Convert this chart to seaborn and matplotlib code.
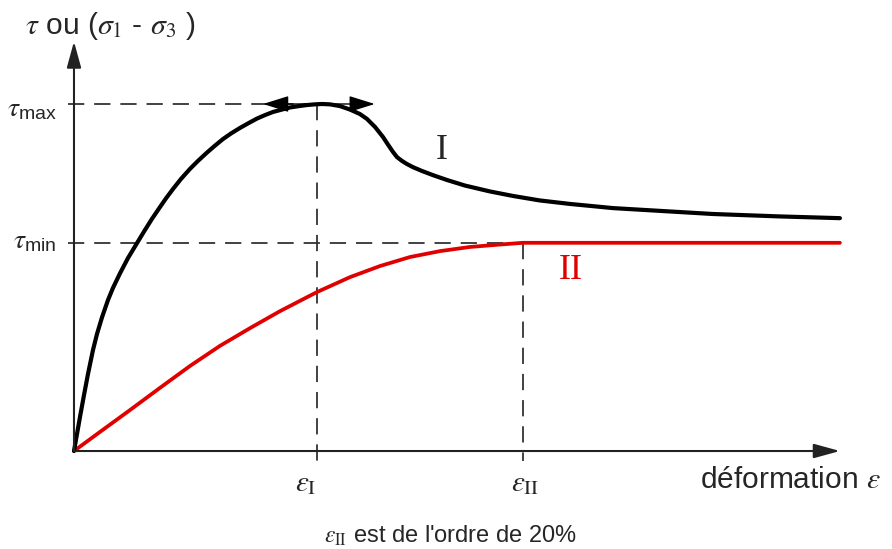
import pandas as pd
import matplotlib.pyplot as plt
import seaborn as sns

# Courbe I (sol dense / surconsolidé) : pic puis palier résiduel
strain_I = [0, 0.134, 0.267, 0.445, 0.624, 0.846, 1.024, 1.247, 1.514, 1.737, 2.049,
            2.405, 2.806, 3.163, 3.474, 3.831, 4.098, 4.410, 4.766, 5.167, 5.523, 5.924,
            6.281, 6.637, 6.993, 7.394, 7.751, 8.151, 8.508, 8.864, 9.265, 9.621,
            10.022, 10.379, 10.735, 11.047, 11.403, 11.849, 12.294, 12.739, 13.051,
            13.408, 13.764, 13.987, 14.209, 14.388, 14.610, 14.833, 15.100, 15.501,
            15.991, 16.615, 17.416, 18.530, 19.555, 20.757, 22.094, 24.009, 26.102,
            28.463, 31.448, 34.120]
stress_I = [0, 0.049, 0.098, 0.161, 0.222, 0.291, 0.337, 0.385, 0.435, 0.470, 0.512,
            0.556, 0.599, 0.637, 0.669, 0.703, 0.728, 0.755, 0.784, 0.813, 0.836, 0.860,
            0.880, 0.899, 0.915, 0.931, 0.944, 0.958, 0.968, 0.977, 0.984, 0.990,
            0.994, 0.997, 0.999, 1.0, 0.999, 0.994, 0.984, 0.971, 0.957,
            0.934, 0.905, 0.883, 0.862, 0.847, 0.836, 0.827, 0.818, 0.807,
            0.795, 0.781, 0.765, 0.748, 0.735, 0.722, 0.712, 0.700, 0.692,
            0.683, 0.676, 0.671]

# Courbe II (sol lâche / normalement consolidé)
strain_II = [0, 1.158, 2.494, 3.831, 5.167, 6.503, 7.840, 9.176, 10.824, 12.294, 13.630,
             14.967, 16.303, 17.639, 18.976, 20.0, 34.12]
stress_II = [0, 0.055, 0.118, 0.182, 0.245, 0.303, 0.354, 0.403, 0.458, 0.501, 0.533,
             0.559, 0.576, 0.588, 0.595, 0.6, 0.6]

tau_max = 1.0
tau_min = 0.6
eps_I = 10.82
eps_II = 20.0
x_end = 34.12
y_end = 1.18

df_I = pd.DataFrame({'deformation': strain_I, 'tau': stress_I})
df_II = pd.DataFrame({'deformation': strain_II, 'tau': stress_II})

sns.set_style('white')
plt.rcParams['font.family'] = ['Liberation Sans', 'DejaVu Sans']
plt.rcParams['mathtext.fontset'] = 'stix'

fig = plt.figure(figsize=(8.92, 5.49), dpi=100)
ax = fig.add_axes([0, 0, 1, 1])
ax.set_xlim(-3.296, 36.44)
ax.set_ylim(-0.2824, 1.2997)

# lignes de rappel en tirets
dash = dict(color='#333333', lw=1.3, dashes=(9, 5.5))
ax.plot([-0.27, eps_I], [tau_max, tau_max], **dash)
ax.plot([-0.27, eps_II], [tau_min, tau_min], **dash)
ax.plot([eps_I, eps_I], [tau_max, -0.03], **dash)
ax.plot([eps_II, eps_II], [tau_min, -0.03], **dash)

# axes avec flèches
axis_arrow = dict(arrowstyle='-|>,head_length=0.8,head_width=0.22', color='#222222',
                  lw=1.5, shrinkA=0, shrinkB=0, mutation_scale=20)
ax.annotate('', xy=(x_end, 0), xytext=(0, 0), arrowprops=axis_arrow)
ax.annotate('', xy=(0, y_end), xytext=(0, 0), arrowprops=axis_arrow)

# courbes
sns.lineplot(data=df_II, x='deformation', y='tau', color='#e00000', lw=2.7,
             estimator=None, sort=False, ax=ax, solid_joinstyle='round')
sns.lineplot(data=df_I, x='deformation', y='tau', color='black', lw=3.0,
             estimator=None, sort=False, ax=ax, solid_joinstyle='round')
ax.axis('off')

# double flèche au pic
ax.annotate('', xy=(13.4, tau_max), xytext=(8.42, tau_max),
            arrowprops=dict(arrowstyle='<|-|>,head_length=0.8,head_width=0.25',
                            color='black', lw=1.0, shrinkA=0, shrinkB=0,
                            mutation_scale=20))

# textes
ax.text(-2.18, 1.225, r'$\tau$ ou ($\sigma_1$ - $\sigma_3$ )', fontsize=21.5,
        ha='left', va='center')
ax.text(-0.76, 0.985, r'$\tau_{\mathregular{max}}$', fontsize=20, ha='right', va='center')
ax.text(-0.76, 0.605, r'$\tau_{\mathregular{min}}$', fontsize=20, ha='right', va='center')
ax.text(eps_I - 0.5, -0.092, r'$\varepsilon_{\mathrm{I}}$', fontsize=21,
        ha='center', va='center')
ax.text(eps_II + 0.1, -0.092, r'$\varepsilon_{\mathrm{II}}$', fontsize=21,
        ha='center', va='center')
ax.text(27.9, -0.1066, r'déformation $\varepsilon$', fontsize=21.5,
        ha='left', va='baseline')
ax.text(16.75, -0.245, r"$\varepsilon_{\mathrm{II}}$ est de l'ordre de 20%", fontsize=17,
        ha='center', va='center')
ax.text(16.39, 0.867, 'I', fontsize=26, family='Liberation Serif',
        ha='center', va='center')
ax.text(22.14, 0.519, 'II', fontsize=26, family='Liberation Serif', color='#e00000',
        ha='center', va='center')

fig.savefig('out.png', dpi=100)
